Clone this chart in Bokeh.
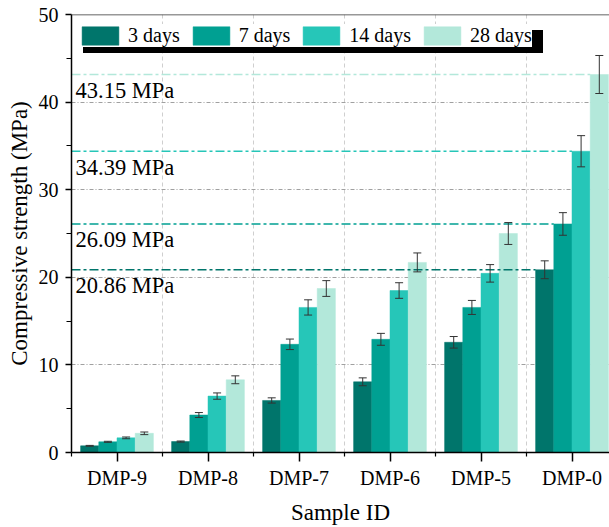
from bokeh.plotting import figure
from bokeh.models import (ColumnDataSource, Range1d, FixedTicker, Span, Whisker, TeeHead,
                          Legend, LegendItem)
from bokeh.core.properties import value
from bokeh.embed import file_html
from bokeh.resources import INLINE

samples = ["DMP-9", "DMP-8", "DMP-7", "DMP-6", "DMP-5", "DMP-0"]
ages = ["3 days", "7 days", "14 days", "28 days"]
strength_3d = [0.76, 1.25, 5.94, 8.07, 12.58, 20.86]
strength_7d = [1.22, 4.28, 12.35, 12.92, 16.56, 26.09]
strength_14d = [1.67, 6.44, 16.56, 18.49, 20.45, 34.39]
strength_28d = [2.19, 8.30, 18.72, 21.70, 25.00, 43.15]
err_3d = [0.05, 0.06, 0.30, 0.45, 0.66, 1.02]
err_7d = [0.06, 0.28, 0.60, 0.68, 0.80, 1.29]
err_14d = [0.10, 0.36, 0.87, 0.89, 1.00, 1.78]
err_28d = [0.15, 0.45, 0.90, 1.08, 1.25, 2.17]
y_ticks = [0, 10, 20, 30, 40, 50]

series = [strength_3d, strength_7d, strength_14d, strength_28d]
errors = [err_3d, err_7d, err_14d, err_28d]
colors = ["#00756B", "#00A092", "#26C6B8", "#B3E8DA"]
SERIF = "'Liberation Serif', 'Times New Roman', serif"

bar_w = 0.2
offsets = [-0.3, -0.1, 0.1, 0.3]

p = figure(width=609, height=527, x_range=Range1d(-0.5, 5.412), y_range=Range1d(0, 50),
           output_backend="svg", toolbar_location=None,
           min_border_left=71, min_border_right=0, min_border_top=14, min_border_bottom=73)
p.outline_line_color = None
p.background_fill_color = "white"
p.border_fill_color = "white"

# axes
p.xaxis.ticker = FixedTicker(ticks=list(range(len(samples))),
                             minor_ticks=[i + 0.5 for i in range(-1, len(samples))])
p.xaxis.major_label_overrides = {i: s for i, s in enumerate(samples)}
p.yaxis.ticker = FixedTicker(ticks=y_ticks, minor_ticks=[t + 5 for t in y_ticks[:-1]])
for ax in (p.xaxis[0], p.yaxis[0]):
    ax.axis_line_color = "black"
    ax.axis_line_width = 1.5
    ax.major_tick_line_color = "black"
    ax.major_tick_line_width = 1.5
    ax.minor_tick_line_color = "black"
    ax.minor_tick_line_width = 1.2
    ax.major_tick_in = 0
    ax.minor_tick_in = 0
    ax.major_label_text_font = SERIF
    ax.major_label_text_font_size = "20px"
    ax.major_label_text_color = "black"
    ax.axis_label_text_font = SERIF
    ax.axis_label_text_font_size = "23px"
    ax.axis_label_text_font_style = "normal"
    ax.axis_label_text_color = "black"
p.xaxis.major_tick_out = 9
p.xaxis.minor_tick_out = 4
p.yaxis.major_tick_out = 6
p.yaxis.minor_tick_out = 5
p.yaxis.major_label_standoff = 7
p.xaxis.major_label_standoff = 5
p.xaxis.axis_label = "Sample ID"
p.yaxis.axis_label = "Compressive strength (MPa)"
p.xaxis.axis_label_standoff = 8
p.yaxis.axis_label_standoff = 4

# grids
p.ygrid.ticker = FixedTicker(ticks=y_ticks[1:-1])
p.ygrid.grid_line_color = "#a0a0a0"
p.ygrid.grid_line_dash = "4 2 1 2"
p.ygrid.grid_line_width = 1
p.xgrid.ticker = FixedTicker(ticks=[i + 0.5 for i in range(len(samples) - 1)])
p.xgrid.grid_line_color = "#cfcfcf"
p.xgrid.grid_line_dash = "4 3"
p.xgrid.grid_line_width = 1

p.add_layout(Span(location=50, dimension="width", line_color="#333333", line_width=1.5))

# bars
renderers = []
for k, (vals, col) in enumerate(zip(series, colors)):
    xs = [i + offsets[k] for i in range(len(samples))]
    src = ColumnDataSource(dict(x=xs, top=vals))
    r = p.vbar(x="x", top="top", width=bar_w, source=src, fill_color=col,
               line_color=col, line_width=0.5)
    renderers.append(r)

# reference lines (DMP-0 value per age)
for k, (vals, col) in enumerate(zip(series, colors)):
    v = vals[-1]
    x_end = (len(samples) - 1) + offsets[k] - bar_w / 2
    p.segment(x0=[-0.5], y0=[v], x1=[x_end], y1=[v], line_color=col,
              line_width=1.5, line_dash="9 3 3 3")
    p.text(x=[-0.5], y=[v], text=[f"{v:.2f} MPa"], x_offset=4, y_offset=16,
           text_baseline="alphabetic", text_align="left",
           text_font=value(SERIF), text_font_size="22.5px", text_color="black")

# error bars
for k, (vals, errs) in enumerate(zip(series, errors)):
    xs = [i + offsets[k] for i in range(len(samples))]
    src = ColumnDataSource(dict(x=xs, upper=[v + e for v, e in zip(vals, errs)],
                                lower=[v - e for v, e in zip(vals, errs)]))
    w = Whisker(base="x", upper="upper", lower="lower", source=src,
                line_color="#333333", line_width=1, level="overlay",
                upper_head=TeeHead(size=8, line_color="#333333", line_width=1),
                lower_head=TeeHead(size=8, line_color="#333333", line_width=1))
    p.add_layout(w)

# legend, with a same-size all-black legend (no text) behind it as drop shadow
legend_kw = dict(orientation="horizontal", padding=3, spacing=8, glyph_width=46,
                 glyph_height=23, label_height=23, label_standoff=5,
                 border_line_color=None, background_fill_alpha=1, margin=0)
shadow_renderers = [p.vbar(x=[], top=[], width=bar_w, fill_color="black", line_color="black")
                    for _ in ages]
shadow = Legend(items=[LegendItem(label=" ", renderers=[r]) for r in shadow_renderers],
                location=(12, 399), label_width=58, label_text_font_size="1px",
                label_text_color="black", background_fill_color="black", **legend_kw)
p.add_layout(shadow)
legend = Legend(items=[LegendItem(label=a, renderers=[r]) for a, r in zip(ages, renderers)],
                location=(6, 405), label_text_color="black",
                label_text_font=SERIF, label_text_font_size="20px",
                background_fill_color="white", **legend_kw)
p.add_layout(legend)

open("out.html", "w").write(file_html(p, INLINE))
